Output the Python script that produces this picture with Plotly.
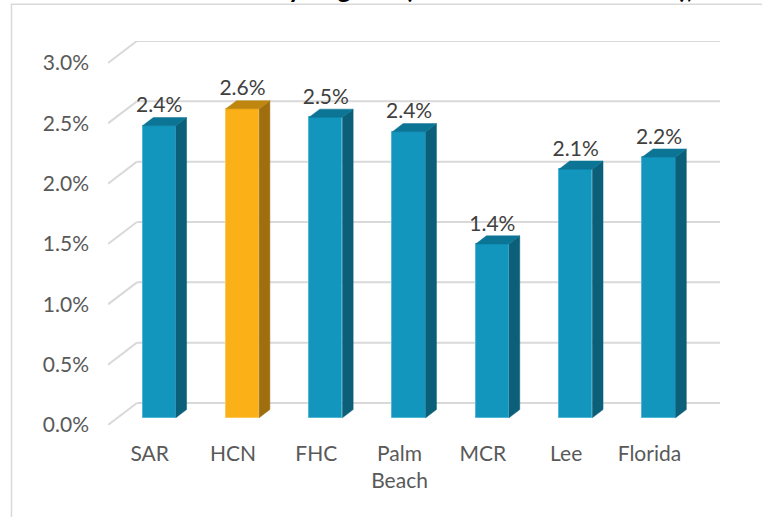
import plotly.graph_objects as go

# ---- data ----
regions = ["SAR", "HCN", "FHC", "Palm<br>Beach", "MCR", "Lee", "Florida"]
rates = [0.0242, 0.0256, 0.0249, 0.0237, 0.0144, 0.0206, 0.0216]
highlight = "HCN"
y_ticks = [0.0, 0.005, 0.010, 0.015, 0.020, 0.025, 0.030]
title_text = "Annual Readmission Rate by Regions (Share of All Admissions),"

# ---- oblique "3-D" projection: offset of the back wall relative to the front plane ----
DX = 0.3475      # in category units
DY = 0.001823    # in value units
D_FRONT, D_BACK = 0.33, 0.70   # depth of bar front / back faces
BAR_W = 0.40

FACE_BLUE, SIDE_BLUE, TOP_BLUE, EDGE_BLUE = "#1396be", "#0b5f78", "#0c7595", "#4fb6d6"
FACE_ORG, SIDE_ORG, TOP_ORG, EDGE_ORG = "#fcb018", "#9f6e0f", "#bf860f", "#fdc85a"
GRID = "#d9d9d9"

x_idx = list(range(len(regions)))
x_lo, x_hi = -0.5, len(regions) - 0.5 + DX
y_hi = y_ticks[-1] + DY

fig = go.Figure()

# front faces of the bars
is_hi = [r == highlight for r in regions]
fig.add_trace(go.Bar(
    x=[i + D_FRONT * DX for i in x_idx],
    y=rates,
    base=[D_FRONT * DY] * len(rates),
    width=BAR_W,
    marker=dict(color=[FACE_ORG if h else FACE_BLUE for h in is_hi],
                line=dict(color=[EDGE_ORG if h else EDGE_BLUE for h in is_hi], width=1)),
    hoverinfo="skip", showlegend=False,
))

# side and top faces
ddx = (D_BACK - D_FRONT) * DX
ddy = (D_BACK - D_FRONT) * DY
for i, v, h in zip(x_idx, rates, is_hi):
    xc = i + D_FRONT * DX
    xl, xr = xc - BAR_W / 2, xc + BAR_W / 2
    b = D_FRONT * DY
    t = v + D_FRONT * DY
    side_c, top_c = (SIDE_ORG, TOP_ORG) if h else (SIDE_BLUE, TOP_BLUE)
    fig.add_trace(go.Scatter(
        x=[xr, xr + ddx, xr + ddx, xr, xr],
        y=[b, b + ddy, t + ddy, t, b],
        fill="toself", fillcolor=side_c, mode="lines",
        line=dict(width=0.5, color=side_c),
        hoverinfo="skip", showlegend=False))
    fig.add_trace(go.Scatter(
        x=[xl, xl + ddx, xr + ddx, xr, xl],
        y=[t, t + ddy, t + ddy, t, t],
        fill="toself", fillcolor=top_c, mode="lines",
        line=dict(width=0.5, color=top_c),
        hoverinfo="skip", showlegend=False))

# value labels
fig.add_trace(go.Scatter(
    x=[i + D_FRONT * DX for i in x_idx],
    y=[v + D_BACK * DY for v in rates],
    mode="text",
    text=[f"{v:.1%}" for v in rates],
    textposition="top center",
    textfont=dict(family="Lato", size=21, color="#404040"),
    hoverinfo="skip", showlegend=False))

# back-wall gridlines with the diagonal side-wall segments
shapes = []
for yv in y_ticks:
    shapes.append(dict(type="line", xref="x", yref="y", layer="below",
                       x0=x_lo, y0=yv, x1=x_lo + DX, y1=yv + DY,
                       line=dict(color=GRID, width=2)))
    shapes.append(dict(type="line", xref="x", yref="y", layer="below",
                       x0=x_lo + DX, y0=yv + DY, x1=x_hi, y1=yv + DY,
                       line=dict(color=GRID, width=2)))

# chart-area border (left and top edges)
shapes.append(dict(type="path", xref="paper", yref="paper", layer="below",
                   path="M -0.1577,-0.30 L -0.1577,1.0955 L 1.10,1.0955",
                   line=dict(color="#d9d9d9", width=1.5)))

fig.update_layout(
    shapes=shapes,
    width=762, height=517, autosize=False,
    margin=dict(l=108, r=42, t=41, b=92),
    paper_bgcolor="white", plot_bgcolor="white",
    bargap=0,
    xaxis=dict(range=[x_lo, x_hi], tickmode="array", tickvals=x_idx, ticktext=regions,
               showgrid=False, zeroline=False, showline=False, ticks="",
               ticklabelstandoff=14,
               tickfont=dict(family="Lato", size=21, color="#595959")),
    yaxis=dict(range=[0, y_hi], tickmode="array", tickvals=y_ticks,
               ticktext=[f"{t:.1%}" for t in y_ticks],
               showgrid=False, zeroline=False, showline=False, ticks="",
               ticklabelstandoff=18,
               tickfont=dict(family="Lato", size=21, color="#595959")),
    annotations=[dict(text=f"<b>{title_text}</b>", xref="paper", yref="paper",
                      x=(695 - 108) / 612, y=(425 - 6) / 384,
                      xanchor="right", yanchor="bottom", showarrow=False,
                      font=dict(family="Lato", size=26, color="black"))],
)

fig.write_html("out.html")
